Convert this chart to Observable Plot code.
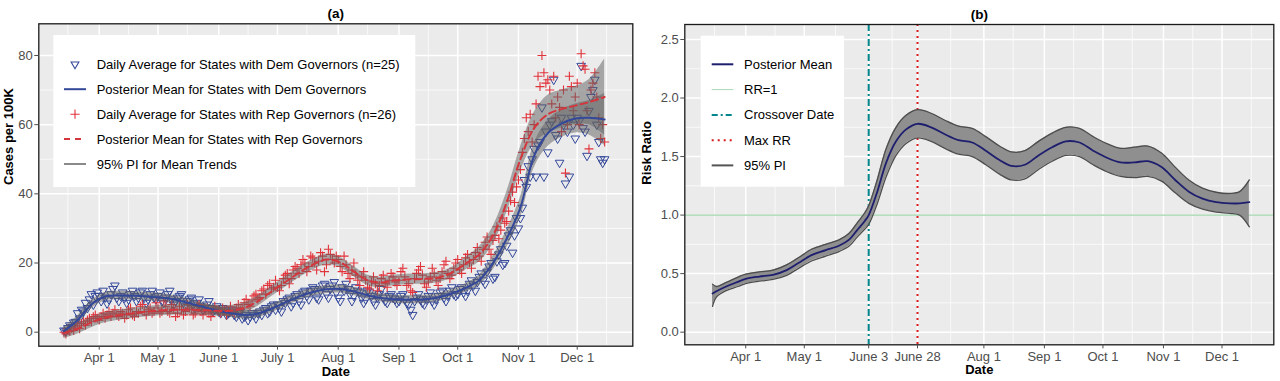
<!DOCTYPE html>
<html><head><meta charset="utf-8">
<script src="https://cdn.jsdelivr.net/npm/d3@7"></script>
<script src="https://cdn.jsdelivr.net/npm/@observablehq/plot@0.6"></script>
<style>
body{margin:0;background:#fff;}
#wrap{display:flex;width:1280px;height:381px;}
#wrap svg{font-family:"Liberation Sans",Arial,sans-serif;display:block;}
</style></head><body><div id="wrap"></div>
<script>
// ---------- Panel (a) data ----------
const dailyStart = "2020-03-14";
const demDaily = [
 0.5,0.3,1.2,2.0,1.5,2.8,3.0,5.5,4.0,6.5,6.0,8.5,7.0,9.5,11.0,8.0,10.5,11.5,
 10.5,9.0,12.0,10.0,8.3,9.5,11.0,12.5,13.5,10.0,9.0,10.5,11.5,10.0,8.5,9.5,11.0,12.0,10.5,9.0,10.0,11.5,12.0,10.0,8.5,9.5,11.0,12.0,10.0,9.5,
 10.5,11.5,9.0,8.5,10.0,11.0,12.0,9.5,8.0,9.0,10.0,10.5,11.0,8.5,7.5,9.0,9.5,10.0,8.0,7.0,8.5,9.5,7.5,6.5,7.0,8.0,9.0,7.0,6.0,6.5,7.5,
 6.0,5.5,7.0,6.5,5.0,5.5,6.0,6.5,5.0,4.5,5.5,6.0,4.0,4.5,5.0,3.5,4.5,5.5,5.0,4.0,5.5,6.0,5.0,6.5,7.0,5.5,6.0,7.5,8.0,6.5,
 8.0,7.0,6.0,9.0,8.5,9.5,10.0,7.5,8.5,10.5,11.0,9.0,8.0,11.5,12.0,10.5,9.5,12.0,13.0,12.5,10.0,9.5,12.0,13.5,14.0,11.0,10.0,12.5,13.5,14.5,11.5,
 10.0,9.0,13.0,12.0,14.0,12.5,11.0,9.0,10.5,13.0,12.0,11.5,10.0,8.5,9.5,12.0,11.5,10.5,9.0,8.0,10.0,11.0,12.5,10.0,9.0,8.5,10.5,11.0,10.0,9.5,8.5,
 9.0,10.5,11.0,9.5,8.5,8.0,6.5,5.0,9.0,10.0,11.0,9.5,8.5,8.0,9.5,10.5,11.5,9.0,8.0,9.5,10.5,11.5,12.0,10.0,9.0,10.5,12.0,13.0,11.0,10.5,
 11.0,12.5,13.0,11.5,10.5,12.0,14.0,15.0,13.5,12.0,14.5,16.0,17.0,15.0,14.0,17.5,19.0,20.0,15.5,16.0,20.5,22.5,24.0,19.5,20.0,25.0,28.0,29.5,23.0,28.0,33.0,
 30,33,36,44,42,48,45,50,53,45,54,55,65,45,58,52,60,61,73,57,56,49,62,60,43,58,45,62,60,56,
 62,61,77,59,58,51,64,68,70,73,60,55,50,49,50
];
const repDaily = [
 0,-0.5,0.5,0.3,1.0,0.5,1.5,2.0,1.0,2.5,3.0,2.0,3.5,4.0,3.0,4.5,5.0,4.0,
 3.5,4.5,5.5,4.0,5.0,6.0,4.5,5.5,6.5,5.0,4.5,6.0,5.5,4.0,5.0,6.5,7.0,5.0,4.5,6.0,5.5,7.5,8.0,6.0,5.0,6.5,7.0,5.5,6.0,8.5,
 7.0,5.5,6.0,9.0,7.5,6.0,5.5,8.0,7.0,4.5,5.5,7.5,6.5,5.0,6.0,8.0,7.0,6.5,5.0,5.5,7.5,8.0,6.0,5.0,6.5,7.0,5.5,4.5,6.0,7.5,6.5,
 6.0,5.5,7.0,6.5,5.0,6.0,7.5,6.0,5.5,7.0,8.0,6.5,7.0,8.5,9.5,8.0,7.5,9.0,10.5,11.0,9.5,10.0,12.0,12.5,11.0,13.5,14.0,12.5,13.0,15.0,
 13.0,12.0,13.5,15.5,16.5,17.0,14.0,15.5,18.0,19.0,18.5,17.0,19.5,21.0,20.0,17.5,19.0,22.0,21.5,20.0,18.0,20.5,23.0,22.0,17.5,19.5,24.0,22.5,21.0,20.0,22.0,
 21.0,19.0,17.5,22.0,19.5,17.0,15.5,18.0,20.0,16.5,15.0,13.5,16.0,17.5,15.0,13.0,12.5,14.5,16.0,14.0,12.0,13.5,15.5,16.5,14.0,13.0,15.0,17.0,16.0,14.5,13.5,
 15.0,17.5,18.5,16.0,13.5,14.0,12.0,11.5,15.5,17.0,18.0,19.0,16.5,14.0,13.0,14.5,16.0,18.5,17.0,15.0,13.5,15.5,17.5,19.5,20.5,17.0,15.5,16.5,18.5,20.0,
 21.0,18.0,17.0,19.5,21.5,22.5,20.0,18.5,21.0,23.0,24.5,22.0,20.5,24.0,26.0,27.5,24.0,22.5,26.5,28.0,30.5,27.0,29.5,33.0,31.5,32.0,35.0,38.0,40.5,37.5,42.0,
 44,47,52,56,62,58,63,55,60,66,74,71,80,75,72,73,70,66,74,62,68,65,58,70,46,60,74,71,64,68,
 72,60,80.5,77,76,64,53,70,72,75,68,62,56,60,55
];
const trendDates = ["2020-03-14","2020-03-21","2020-03-28","2020-04-04","2020-04-12","2020-04-20","2020-04-28","2020-05-06","2020-05-14","2020-05-22","2020-05-30","2020-06-07","2020-06-14","2020-06-21","2020-06-28","2020-07-05","2020-07-12","2020-07-19","2020-07-26","2020-08-02","2020-08-09","2020-08-16","2020-08-23","2020-08-30","2020-09-07","2020-09-14","2020-09-21","2020-09-28","2020-10-05","2020-10-12","2020-10-19","2020-10-26","2020-11-02","2020-11-09","2020-11-16","2020-11-23","2020-11-30","2020-12-07","2020-12-15"];
const demMean = [0.3,3.5,8.0,10.3,10.6,10.5,10.2,9.8,8.8,7.6,6.4,5.5,5.0,5.4,6.8,8.6,10.3,11.6,12.4,12.5,11.8,10.7,9.9,9.5,9.4,9.5,10.0,11.2,12.8,15.0,20.0,27.0,36.0,51.0,57.5,60.3,61.8,62.0,61.5];
const demLo   = [-0.9,2.3,6.8,9.1,9.4,9.3,9.0,8.6,7.6,6.4,5.2,4.3,3.8,4.2,5.6,7.4,9.1,10.4,11.2,11.3,10.6,9.5,8.7,8.3,8.2,8.3,8.8,10.0,11.6,13.5,18.0,24.5,33.0,47.5,53.7,56.3,57.6,57.0,54.0];
const demHi   = [1.5,4.7,9.2,11.5,11.8,11.7,11.4,11.0,10.0,8.8,7.6,6.7,6.2,6.6,8.0,9.8,11.5,12.8,13.6,13.7,13.0,11.9,11.1,10.7,10.6,10.7,11.2,12.4,14.0,16.5,22.0,29.5,39.0,54.5,61.3,64.3,66.0,67.0,69.0];
const repMean = [-0.3,1.0,2.8,4.2,5.0,5.6,6.1,6.4,6.5,6.4,6.2,6.2,7.0,9.0,11.8,14.5,17.2,19.5,21.0,20.2,17.5,15.0,14.4,15.0,15.3,15.4,15.8,17.2,19.8,22.5,28.0,37.5,50.0,59.0,63.0,64.5,65.5,66.5,68.0];
const repLo   = [-1.8,-0.5,1.3,2.7,3.5,4.1,4.6,4.9,5.0,4.9,4.7,4.7,5.5,7.5,10.3,13.0,15.7,18.0,19.5,18.7,16.0,13.5,12.9,13.5,13.8,13.9,14.3,15.7,18.0,20.3,25.5,34.5,46.5,54.5,57.5,59.0,60.0,60.0,57.0];
const repHi   = [1.2,2.5,4.3,5.7,6.5,7.1,7.6,7.9,8.0,7.9,7.7,7.7,8.5,10.5,13.3,16.0,18.7,21.0,22.5,21.7,19.0,16.5,15.9,16.5,16.8,16.9,17.3,18.7,21.6,24.7,30.5,40.5,53.5,63.5,68.5,70.0,71.0,73.0,79.0];
const ticksA = ["2020-04-01","2020-05-01","2020-06-01","2020-07-01","2020-08-01","2020-09-01","2020-10-01","2020-11-01","2020-12-01"];
const tickLabelsA = ["Apr 1","May 1","June 1","July 1","Aug 1","Sep 1","Oct 1","Nov 1","Dec 1"];
const minorA = ["2020-03-16","2020-04-16","2020-05-16","2020-06-16","2020-07-16","2020-08-16","2020-09-16","2020-10-16","2020-11-16","2020-12-16"];
const yTicksA = [0,20,40,60,80];
const yMinorA = [10,30,50,70];
const legendA = ["Daily Average for States with Dem Governors (n=25)","Posterior Mean for States with Dem Governors","Daily Average for States with Rep Governors (n=26)","Posterior Mean for States with Rep Governors","95% PI for Mean Trends"];

// ---------- Panel (b) data ----------
const rrDates = ["2020-03-15","2020-03-17","2020-03-22","2020-03-28","2020-04-01","2020-04-08","2020-04-15","2020-04-22","2020-04-28","2020-05-05","2020-05-12","2020-05-19","2020-05-24","2020-05-28","2020-06-01","2020-06-03","2020-06-07","2020-06-12","2020-06-17","2020-06-22","2020-06-28","2020-07-05","2020-07-12","2020-07-19","2020-07-26","2020-08-02","2020-08-09","2020-08-15","2020-08-22","2020-08-29","2020-09-05","2020-09-12","2020-09-19","2020-09-26","2020-10-03","2020-10-10","2020-10-17","2020-10-24","2020-10-31","2020-11-07","2020-11-14","2020-11-21","2020-11-28","2020-12-05","2020-12-10","2020-12-15"];
const rrMean = [0.33,0.35,0.39,0.43,0.455,0.475,0.49,0.53,0.59,0.66,0.70,0.74,0.79,0.87,0.95,1.00,1.18,1.45,1.63,1.73,1.78,1.75,1.69,1.64,1.62,1.55,1.47,1.42,1.43,1.51,1.58,1.63,1.62,1.55,1.49,1.45,1.45,1.46,1.41,1.30,1.20,1.14,1.11,1.10,1.10,1.11];
const rrLo = [0.22,0.30,0.355,0.39,0.415,0.435,0.45,0.485,0.545,0.61,0.65,0.69,0.735,0.81,0.88,0.92,1.08,1.33,1.51,1.61,1.66,1.63,1.57,1.52,1.50,1.43,1.35,1.30,1.31,1.39,1.46,1.51,1.50,1.43,1.37,1.33,1.32,1.33,1.29,1.19,1.10,1.05,1.025,1.015,1.00,0.90];
const rrHi = [0.41,0.39,0.425,0.47,0.495,0.515,0.53,0.575,0.635,0.71,0.75,0.79,0.845,0.93,1.02,1.08,1.28,1.57,1.75,1.85,1.90,1.87,1.81,1.76,1.74,1.67,1.59,1.54,1.55,1.63,1.70,1.75,1.74,1.67,1.61,1.57,1.58,1.59,1.53,1.41,1.30,1.23,1.195,1.185,1.20,1.30];
const crossoverDate = "2020-06-03";
const maxRRDate = "2020-06-28";
const rrRef = 1;
const ticksB = ["2020-04-01","2020-05-01","2020-06-03","2020-06-28","2020-08-01","2020-09-01","2020-10-01","2020-11-01","2020-12-01"];
const tickLabelsB = ["Apr 1","May 1","June 3","June 28","Aug 1","Sep 1","Oct 1","Nov 1","Dec 1"];
const minorB = ["2020-03-16","2020-04-16","2020-05-17","2020-06-15","2020-07-15","2020-08-16","2020-09-16","2020-10-16","2020-11-16","2020-12-16"];
const yTicksB = [0,0.5,1,1.5,2,2.5];
const yMinorB = [0.25,0.75,1.25,1.75,2.25];
const legendB = ["Posterior Mean","RR=1","Crossover Date","Max RR","95% PI"];

// ---------- helpers ----------
const D = s => new Date(s + (s.length === 10 ? "T00:00Z" : ""));
const day0 = D(dailyStart);
const dayAt = i => new Date(+day0 + i * 864e5);
const demPts = demDaily.map((v, i) => ({date: dayAt(i), v}));
const repPts = repDaily.map((v, i) => ({date: dayAt(i), v}));
const trend = trendDates.map((d, i) => ({date: D(d), dm: demMean[i], dl: demLo[i], dh: demHi[i], rm: repMean[i], rl: repLo[i], rh: repHi[i]}));
const rr = rrDates.map((d, i) => ({date: D(d), m: rrMean[i], lo: rrLo[i], hi: rrHi[i]}));

const triDown = {draw(ctx, size) {
  const y = Math.sqrt(size / (Math.sqrt(3) * 3)), x = y * Math.sqrt(3);
  ctx.moveTo(0, 2 * y); ctx.lineTo(-x, -y); ctx.lineTo(x, -y); ctx.closePath();
}};

const BLUE = "#33479A", RED = "#E2323A", BG = "#EBEBEB", TXT = "#4D4D4D";
const CURVE = "catmull-rom";

function fmtMap(ticks, labels) { const m = new Map(ticks.map((t, i) => [+D(t), labels[i]])); return d => m.get(+d); }

function commonMarks(ticks, labels, minor, yTicks, yMinor, yFmt, ylabel, title, ydx) {
  return {
    under: [
      Plot.frame({fill: BG, stroke: "none"}),
      Plot.gridX(minor.map(D), {stroke: "white", strokeOpacity: 1, strokeWidth: 0.7}),
      Plot.gridY(yMinor, {stroke: "white", strokeOpacity: 1, strokeWidth: 0.7}),
      Plot.gridX(ticks.map(D), {stroke: "white", strokeOpacity: 1, strokeWidth: 1.5}),
      Plot.gridY(yTicks, {stroke: "white", strokeOpacity: 1, strokeWidth: 1.5})
    ],
    over: [
      Plot.frame({stroke: "#1a1a1a", strokeWidth: 1.3}),
      Plot.axisX(ticks.map(D), {tickFormat: fmtMap(ticks, labels), tickSize: 4, tickPadding: 3, fontSize: 13, color: TXT, label: null}),
      Plot.axisY(yTicks, {tickFormat: yFmt, tickSize: 4, tickPadding: 2, fontSize: 13, color: TXT, label: null}),
      Plot.text(["Date"], {frameAnchor: "bottom", dy: 29.5, fontSize: 13, fontWeight: "bold", fill: "black"}),
      Plot.text([ylabel], {frameAnchor: "left", dx: ydx, rotate: -90, fontSize: 13, fontWeight: "bold", fill: "black"}),
      Plot.text([title], {frameAnchor: "top", dy: -15.5, fontSize: 13.5, fontWeight: "bold", fill: "black"})
    ]
  };
}

// ---------- Panel (a) ----------
const ca = commonMarks(ticksA, tickLabelsA, minorA, yTicksA, yMinorA, d => String(d), "Cases per 100K", "(a)", -30);
const plotA = Plot.plot({
  width: 640, height: 381,
  marginLeft: 38.3, marginRight: 7.7, marginTop: 23.3, marginBottom: 35.3,
  style: {fontFamily: "Liberation Sans, Arial, sans-serif", fontSize: "13px", background: "white"},
  x: {type: "utc", domain: [D("2020-03-01T04:00Z"), D("2020-12-29T09:00Z")]},
  y: {domain: [-4.05, 89.16]},
  marks: [
    ...ca.under,
    Plot.dot(demPts, {x: "date", y: "v", symbol: triDown, r: 3.2, stroke: BLUE, strokeWidth: 1, fill: "none"}),
    Plot.dot(repPts, {x: "date", y: "v", symbol: "plus", r: 3, stroke: RED, strokeWidth: 1.1}),
    Plot.areaY(trend, {x: "date", y1: "rl", y2: "rh", fill: "#5f5f5f", fillOpacity: 0.5, curve: CURVE}),
    Plot.areaY(trend, {x: "date", y1: "dl", y2: "dh", fill: "#5f5f5f", fillOpacity: 0.5, curve: CURVE}),
    Plot.line(trend, {x: "date", y: "dm", stroke: "#34489A", strokeWidth: 2, curve: CURVE}),
    Plot.line(trend, {x: "date", y: "rm", stroke: "#D3363C", strokeWidth: 2, strokeDasharray: "7,4", curve: CURVE}),
    ...ca.over
  ]
});

// ---------- Panel (b) ----------
const cb = commonMarks(ticksB, tickLabelsB, minorB, yTicksB, yMinorB, d => d.toFixed(1), "Risk Ratio", "(b)", -38);
const plotB = Plot.plot({
  width: 640, height: 381,
  marginLeft: 44.3, marginRight: 6.7, marginTop: 24, marginBottom: 36.7,
  style: {fontFamily: "Liberation Sans, Arial, sans-serif", fontSize: "13px", background: "white"},
  x: {type: "utc", domain: [D("2020-02-29T19:00Z"), D("2020-12-27T12:30Z")]},
  y: {domain: [-0.108, 2.628]},
  marks: [
    ...cb.under,
    Plot.ruleY([rrRef], {stroke: "#86C996", strokeWidth: 1}),
    Plot.ruleX([D(crossoverDate)], {stroke: "#00868B", strokeWidth: 2, strokeDasharray: "7,3,2,3"}),
    Plot.ruleX([D(maxRRDate)], {stroke: "#D7191C", strokeWidth: 2, strokeDasharray: "2,4"}),
    Plot.areaY(rr, {x: "date", y1: "lo", y2: "hi", fill: "#8F8F8F", curve: CURVE}),
    Plot.line(rr, {x: "date", y: "lo", stroke: "#4D4D4D", strokeWidth: 1.3, curve: CURVE}),
    Plot.line(rr, {x: "date", y: "hi", stroke: "#4D4D4D", strokeWidth: 1.3, curve: CURVE}),
    Plot.line(rr, {x: "date", y: "m", stroke: "#1E1E6E", strokeWidth: 1.8, curve: CURVE}),
    ...cb.over
  ]
});

// ---------- legends ----------
function legend(svg, box, rows, x0, lineX, textX) {
  const g = d3.select(svg).append("g")
    .attr("font-family", "Liberation Sans, Arial, sans-serif").attr("font-size", 13).attr("text-anchor", "start");
  g.append("rect").attr("x", box[0]).attr("y", box[1]).attr("width", box[2]).attr("height", box[3]).attr("fill", "white");
  rows.forEach(r => {
    const y = r.y;
    if (r.kind === "tri") g.append("path").attr("d", d3.symbol(d3.symbolTriangle, 26)()).attr("transform", `translate(${x0},${y}) rotate(180)`).attr("fill", "none").attr("stroke", r.color).attr("stroke-width", 1.1);
    else if (r.kind === "plus") g.append("path").attr("d", d3.symbol(d3.symbolPlus, 30)()).attr("transform", `translate(${x0},${y})`).attr("fill", "none").attr("stroke", r.color).attr("stroke-width", 1.1);
    else g.append("line").attr("x1", lineX[0]).attr("x2", lineX[1]).attr("y1", y).attr("y2", y).attr("stroke", r.color).attr("stroke-width", r.w).attr("stroke-dasharray", r.dash || null);
    g.append("text").attr("x", textX).attr("y", y).attr("dy", "0.35em").attr("text-anchor", "start").attr("fill", "black").text(r.label);
  });
}
legend(plotA, [53.3, 35, 362, 152], [
  {kind: "tri", color: BLUE, label: legendA[0], y: 64.3},
  {kind: "line", color: "#34489A", w: 2, label: legendA[1], y: 89.2},
  {kind: "plus", color: RED, label: legendA[2], y: 114.2},
  {kind: "line", color: "#D3363C", w: 2, dash: "6,5", label: legendA[3], y: 139.1},
  {kind: "line", color: "#8a8a8a", w: 2, label: legendA[4], y: 164}
], 75, [64, 86], 96.7);
legend(plotB, [60.7, 35.7, 143.3, 151], [
  {kind: "line", color: "#1E1E6E", w: 2, label: legendB[0], y: 64.3},
  {kind: "line", color: "#A8D8B5", w: 1, label: legendB[1], y: 89.6},
  {kind: "line", color: "#00868B", w: 2, dash: "6,3,2,3", label: legendB[2], y: 114.9},
  {kind: "line", color: "#D7191C", w: 2, dash: "2,4", label: legendB[3], y: 140.2},
  {kind: "line", color: "#555555", w: 2, label: legendB[4], y: 165.4}
], 0, [71.7, 93.3], 104);

document.getElementById("wrap").append(plotA, plotB);
</script></body></html>
